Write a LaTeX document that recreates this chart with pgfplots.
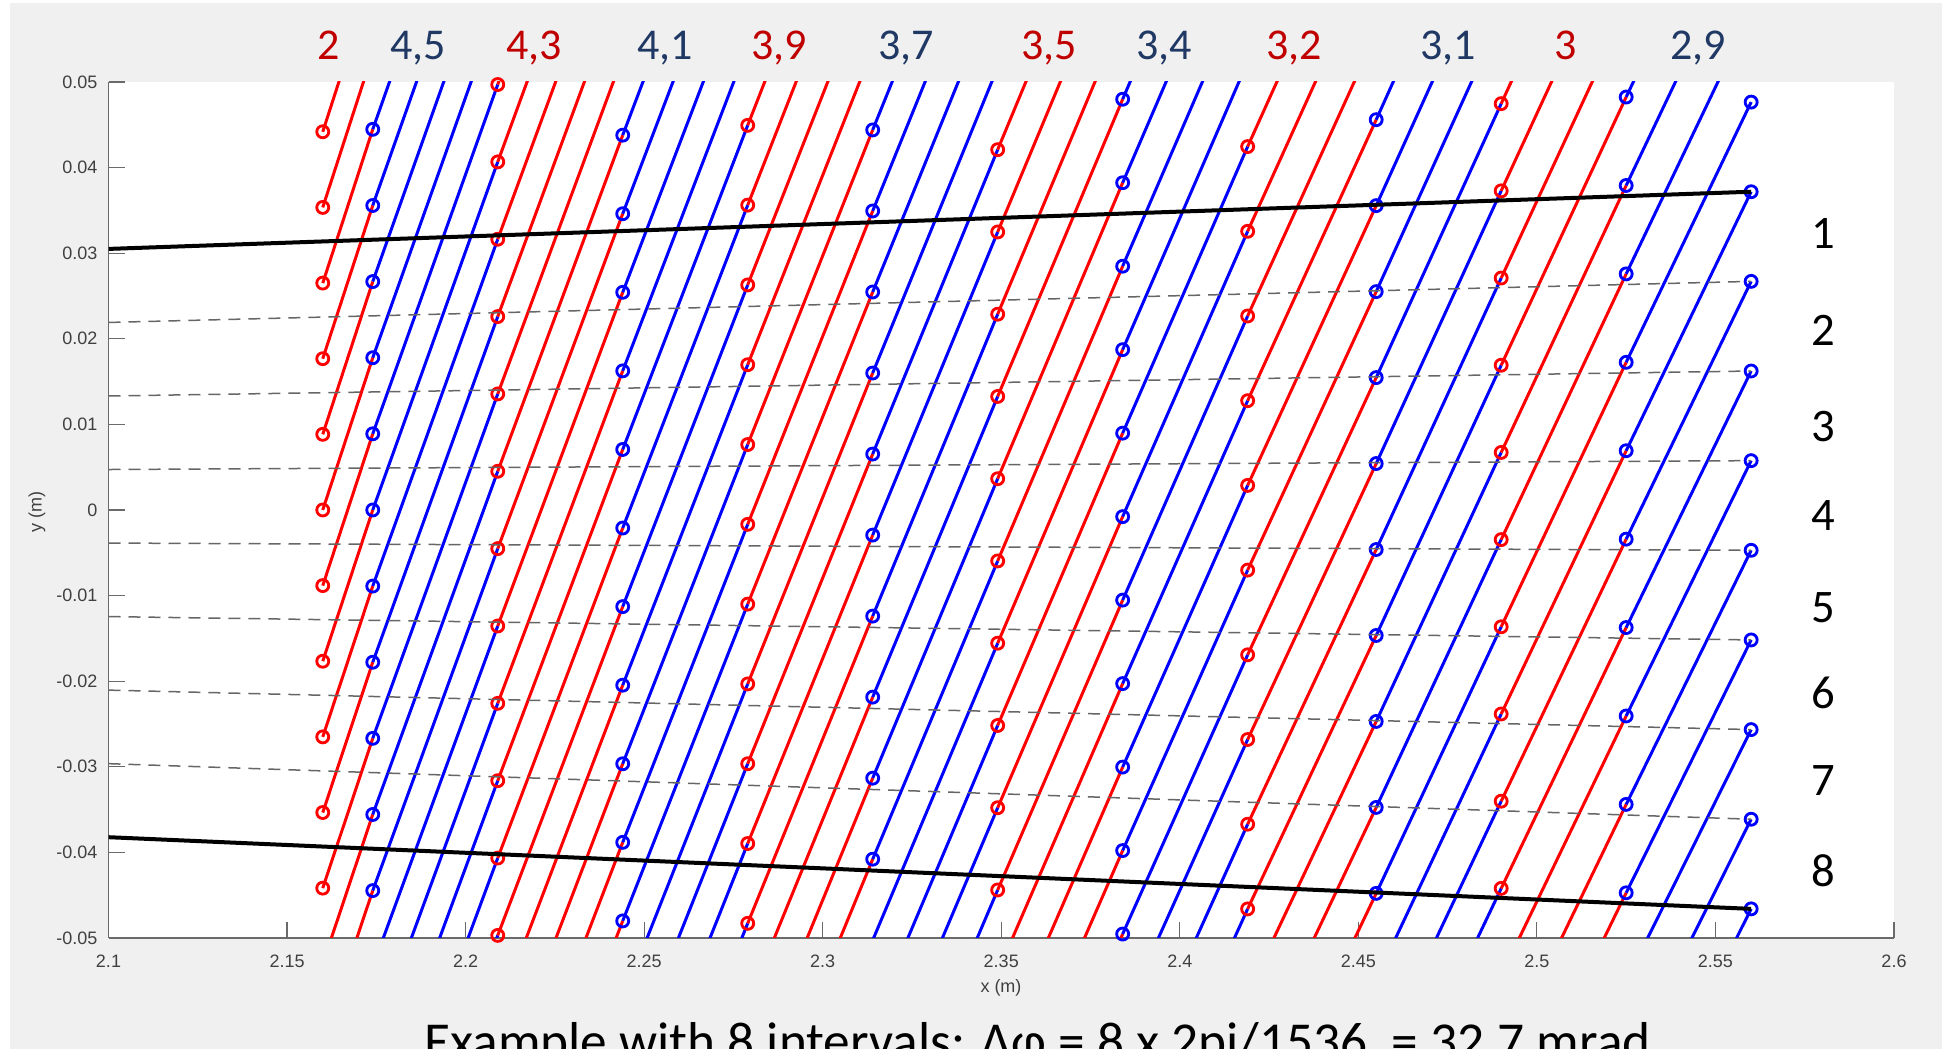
\documentclass[border=0pt]{standalone}
\usepackage{pgfplots}
\pgfplotsset{compat=1.18}
\usepackage{fontspec}
\setmainfont{Liberation Sans}
\newfontfamily\carlito{Carlito}
\definecolor{figbg}{HTML}{F0F0F0}
\definecolor{lblred}{HTML}{C00000}
\definecolor{lblblue}{HTML}{203864}
\definecolor{axgray}{HTML}{6A6A6A}
\definecolor{ticktext}{HTML}{404040}
\definecolor{mred}{RGB}{255,0,0}
\definecolor{mblue}{RGB}{0,0,255}
\begin{document}
\begin{tikzpicture}
\path[use as bounding box] (0pt,0pt) rectangle (583.8pt,314.7pt);
\fill[white] (0pt,0pt) rectangle (583.8pt,314.7pt);
\fill[figbg] (3pt,0pt) rectangle (582.6pt,313.8pt);
\begin{axis}[
  at={(32.55pt,33.3pt)}, anchor=south west,
  scale only axis, width=535.65pt, height=256.8pt,
  xmin=2.1, xmax=2.6, ymin=-0.05, ymax=0.05,
  scaled x ticks=false, scaled y ticks=false,
  axis x line*=bottom, axis y line*=left,
  axis line style={axgray, line width=0.35pt, -},
  axis background/.style={fill=white},
  xtick={2.1,2.15,2.2,2.25,2.3,2.35,2.4,2.45,2.5,2.55,2.6},
  xticklabels={2.1,2.15,2.2,2.25,2.3,2.35,2.4,2.45,2.5,2.55,2.6},
  ytick={-0.05,-0.04,-0.03,-0.02,-0.01,0,0.01,0.02,0.03,0.04,0.05},
  yticklabels={-0.05,-0.04,-0.03,-0.02,-0.01,0,0.01,0.02,0.03,0.04,0.05},
  tick align=inside, major tick length=4.8pt,
  tick style={axgray, line width=0.35pt},
  xticklabel style={font=\fontsize{5.4}{6}\selectfont, text=ticktext, anchor=north, inner sep=0pt, yshift=-4.8pt},
  yticklabel style={font=\fontsize{5.4}{6}\selectfont, text=ticktext, anchor=east, inner sep=0pt, xshift=-3.15pt},
  clip mode=individual,
  unbounded coords=jump,
]
% interval 0 (red)
\addplot[mred, line width=0.9pt, no marks] table {
x y
2.16 -0.061850
2.174 -0.044465
nan nan
2.16 -0.053014
2.174 -0.035572
nan nan
2.16 -0.044179
2.174 -0.026679
nan nan
2.16 -0.035343
2.174 -0.017786
nan nan
2.16 -0.026507
2.174 -0.008893
nan nan
2.16 -0.017671
2.174 0.000000
nan nan
2.16 -0.008836
2.174 0.008893
nan nan
2.16 0.000000
2.174 0.017786
nan nan
2.16 0.008836
2.174 0.026679
nan nan
2.16 0.017671
2.174 0.035572
nan nan
2.16 0.026507
2.174 0.044465
nan nan
2.16 0.035343
2.174 0.053358
nan nan
2.16 0.044179
2.174 0.062251
};
% interval 1 (blue)
\addplot[mblue, line width=0.9pt, no marks] table {
x y
2.174 -0.088930
2.209 -0.049699
nan nan
2.174 -0.080037
2.209 -0.040663
nan nan
2.174 -0.071144
2.209 -0.031627
nan nan
2.174 -0.062251
2.209 -0.022591
nan nan
2.174 -0.053358
2.209 -0.013554
nan nan
2.174 -0.044465
2.209 -0.004518
nan nan
2.174 -0.035572
2.209 0.004518
nan nan
2.174 -0.026679
2.209 0.013554
nan nan
2.174 -0.017786
2.209 0.022591
nan nan
2.174 -0.008893
2.209 0.031627
nan nan
2.174 0.000000
2.209 0.040663
nan nan
2.174 0.008893
2.209 0.049699
nan nan
2.174 0.017786
2.209 0.058735
nan nan
2.174 0.026679
2.209 0.067772
nan nan
2.174 0.035572
2.209 0.076808
nan nan
2.174 0.044465
2.209 0.085844
};
% interval 2 (red)
\addplot[mred, line width=0.9pt, no marks] table {
x y
2.209 -0.085844
2.244 -0.048008
nan nan
2.209 -0.076808
2.244 -0.038828
nan nan
2.209 -0.067772
2.244 -0.029649
nan nan
2.209 -0.058735
2.244 -0.020470
nan nan
2.209 -0.049699
2.244 -0.011291
nan nan
2.209 -0.040663
2.244 -0.002111
nan nan
2.209 -0.031627
2.244 0.007068
nan nan
2.209 -0.022591
2.244 0.016247
nan nan
2.209 -0.013554
2.244 0.025427
nan nan
2.209 -0.004518
2.244 0.034606
nan nan
2.209 0.004518
2.244 0.043785
nan nan
2.209 0.013554
2.244 0.052965
nan nan
2.209 0.022591
2.244 0.062144
nan nan
2.209 0.031627
2.244 0.071323
nan nan
2.209 0.040663
2.244 0.080502
nan nan
2.209 0.049699
2.244 0.089682
};
% interval 3 (blue)
\addplot[mblue, line width=0.9pt, no marks] table {
x y
2.244 -0.084725
2.279 -0.048291
nan nan
2.244 -0.075546
2.279 -0.038968
nan nan
2.244 -0.066366
2.279 -0.029646
nan nan
2.244 -0.057187
2.279 -0.020323
nan nan
2.244 -0.048008
2.279 -0.011001
nan nan
2.244 -0.038828
2.279 -0.001678
nan nan
2.244 -0.029649
2.279 0.007644
nan nan
2.244 -0.020470
2.279 0.016967
nan nan
2.244 -0.011291
2.279 0.026289
nan nan
2.244 -0.002111
2.279 0.035612
nan nan
2.244 0.007068
2.279 0.044934
nan nan
2.244 0.016247
2.279 0.054257
nan nan
2.244 0.025427
2.279 0.063579
nan nan
2.244 0.034606
2.279 0.072902
nan nan
2.244 0.043785
2.279 0.082224
};
% interval 4 (red)
\addplot[mred, line width=0.9pt, no marks] table {
x y
2.279 -0.076258
2.314 -0.040797
nan nan
2.279 -0.066936
2.314 -0.031331
nan nan
2.279 -0.057613
2.314 -0.021866
nan nan
2.279 -0.048291
2.314 -0.012400
nan nan
2.279 -0.038968
2.314 -0.002934
nan nan
2.279 -0.029646
2.314 0.006531
nan nan
2.279 -0.020323
2.314 0.015997
nan nan
2.279 -0.011001
2.314 0.025463
nan nan
2.279 -0.001678
2.314 0.034928
nan nan
2.279 0.007644
2.314 0.044394
nan nan
2.279 0.016967
2.314 0.053860
nan nan
2.279 0.026289
2.314 0.063326
nan nan
2.279 0.035612
2.314 0.072791
nan nan
2.279 0.044934
2.314 0.082257
};
% interval 5 (blue)
\addplot[mblue, line width=0.9pt, no marks] table {
x y
2.314 -0.078660
2.349 -0.044393
nan nan
2.314 -0.069194
2.349 -0.034784
nan nan
2.314 -0.059729
2.349 -0.025175
nan nan
2.314 -0.050263
2.349 -0.015566
nan nan
2.314 -0.040797
2.349 -0.005957
nan nan
2.314 -0.031331
2.349 0.003651
nan nan
2.314 -0.021866
2.349 0.013260
nan nan
2.314 -0.012400
2.349 0.022869
nan nan
2.314 -0.002934
2.349 0.032478
nan nan
2.314 0.006531
2.349 0.042087
nan nan
2.314 0.015997
2.349 0.051695
nan nan
2.314 0.025463
2.349 0.061304
nan nan
2.314 0.034928
2.349 0.070913
nan nan
2.314 0.044394
2.349 0.080522
};
% interval 6 (red)
\addplot[mred, line width=0.9pt, no marks] table {
x y
2.349 -0.082828
2.384 -0.049540
nan nan
2.349 -0.073219
2.384 -0.039788
nan nan
2.349 -0.063610
2.384 -0.030036
nan nan
2.349 -0.054001
2.384 -0.020284
nan nan
2.349 -0.044393
2.384 -0.010532
nan nan
2.349 -0.034784
2.384 -0.000780
nan nan
2.349 -0.025175
2.384 0.008972
nan nan
2.349 -0.015566
2.384 0.018724
nan nan
2.349 -0.005957
2.384 0.028476
nan nan
2.349 0.003651
2.384 0.038228
nan nan
2.349 0.013260
2.384 0.047980
nan nan
2.349 0.022869
2.384 0.057732
nan nan
2.349 0.032478
2.384 0.067484
nan nan
2.349 0.042087
2.384 0.077236
};
% interval 7 (blue)
\addplot[mblue, line width=0.9pt, no marks] table {
x y
2.384 -0.078796
2.419 -0.046606
nan nan
2.384 -0.069044
2.419 -0.036711
nan nan
2.384 -0.059292
2.419 -0.026816
nan nan
2.384 -0.049540
2.419 -0.016921
nan nan
2.384 -0.039788
2.419 -0.007026
nan nan
2.384 -0.030036
2.419 0.002870
nan nan
2.384 -0.020284
2.419 0.012765
nan nan
2.384 -0.010532
2.419 0.022660
nan nan
2.384 -0.000780
2.419 0.032555
nan nan
2.384 0.008972
2.419 0.042450
nan nan
2.384 0.018724
2.419 0.052346
nan nan
2.384 0.028476
2.419 0.062241
nan nan
2.384 0.038228
2.419 0.072136
nan nan
2.384 0.047980
2.419 0.082031
};
% interval 8 (red)
\addplot[mred, line width=0.9pt, no marks] table {
x y
2.419 -0.076292
2.455 -0.044789
nan nan
2.419 -0.066397
2.455 -0.034747
nan nan
2.419 -0.056502
2.455 -0.024704
nan nan
2.419 -0.046606
2.455 -0.014662
nan nan
2.419 -0.036711
2.455 -0.004620
nan nan
2.419 -0.026816
2.455 0.005423
nan nan
2.419 -0.016921
2.455 0.015465
nan nan
2.419 -0.007026
2.455 0.025508
nan nan
2.419 0.002870
2.455 0.035550
nan nan
2.419 0.012765
2.455 0.045592
nan nan
2.419 0.022660
2.455 0.055635
nan nan
2.419 0.032555
2.455 0.065677
nan nan
2.419 0.042450
2.455 0.075720
};
% interval 9 (blue)
\addplot[mblue, line width=0.9pt, no marks] table {
x y
2.455 -0.074916
2.49 -0.044206
nan nan
2.455 -0.064874
2.49 -0.034020
nan nan
2.455 -0.054832
2.49 -0.023834
nan nan
2.455 -0.044789
2.49 -0.013649
nan nan
2.455 -0.034747
2.49 -0.003463
nan nan
2.455 -0.024704
2.49 0.006722
nan nan
2.455 -0.014662
2.49 0.016908
nan nan
2.455 -0.004620
2.49 0.027094
nan nan
2.455 0.005423
2.49 0.037279
nan nan
2.455 0.015465
2.49 0.047465
nan nan
2.455 0.025508
2.49 0.057650
nan nan
2.455 0.035550
2.49 0.067836
nan nan
2.455 0.045592
2.49 0.078022
};
% interval 10 (red)
\addplot[mred, line width=0.9pt, no marks] table {
x y
2.49 -0.074762
2.525 -0.044724
nan nan
2.49 -0.064577
2.525 -0.034395
nan nan
2.49 -0.054391
2.525 -0.024066
nan nan
2.49 -0.044206
2.525 -0.013737
nan nan
2.49 -0.034020
2.525 -0.003409
nan nan
2.49 -0.023834
2.525 0.006920
nan nan
2.49 -0.013649
2.525 0.017249
nan nan
2.49 -0.003463
2.525 0.027578
nan nan
2.49 0.006722
2.525 0.037907
nan nan
2.49 0.016908
2.525 0.048236
nan nan
2.49 0.027094
2.525 0.058564
nan nan
2.49 0.037279
2.525 0.068893
nan nan
2.49 0.047465
2.525 0.079222
};
% interval 11 (blue)
\addplot[mblue, line width=0.9pt, no marks] table {
x y
2.525 -0.075710
2.56 -0.046600
nan nan
2.525 -0.065381
2.56 -0.036128
nan nan
2.525 -0.055053
2.56 -0.025656
nan nan
2.525 -0.044724
2.56 -0.015184
nan nan
2.525 -0.034395
2.56 -0.004712
nan nan
2.525 -0.024066
2.56 0.005760
nan nan
2.525 -0.013737
2.56 0.016232
nan nan
2.525 -0.003409
2.56 0.026704
nan nan
2.525 0.006920
2.56 0.037176
nan nan
2.525 0.017249
2.56 0.047648
nan nan
2.525 0.027578
2.56 0.058120
nan nan
2.525 0.037907
2.56 0.068592
nan nan
2.525 0.048236
2.56 0.079064
};
% red markers
\addplot[only marks, mark=o, mark size=1.8pt, mark options={mred, line width=0.85pt}] table {
x y
2.16 -0.044179
2.16 -0.035343
2.16 -0.026507
2.16 -0.017671
2.16 -0.008836
2.16 0.000000
2.16 0.008836
2.16 0.017671
2.16 0.026507
2.16 0.035343
2.16 0.044179
2.209 -0.049699
2.209 -0.040663
2.209 -0.031627
2.209 -0.022591
2.209 -0.013554
2.209 -0.004518
2.209 0.004518
2.209 0.013554
2.209 0.022591
2.209 0.031627
2.209 0.040663
2.209 0.049699
2.279 -0.048291
2.279 -0.038968
2.279 -0.029646
2.279 -0.020323
2.279 -0.011001
2.279 -0.001678
2.279 0.007644
2.279 0.016967
2.279 0.026289
2.279 0.035612
2.279 0.044934
2.349 -0.044393
2.349 -0.034784
2.349 -0.025175
2.349 -0.015566
2.349 -0.005957
2.349 0.003651
2.349 0.013260
2.349 0.022869
2.349 0.032478
2.349 0.042087
2.419 -0.046606
2.419 -0.036711
2.419 -0.026816
2.419 -0.016921
2.419 -0.007026
2.419 0.002870
2.419 0.012765
2.419 0.022660
2.419 0.032555
2.419 0.042450
2.49 -0.044206
2.49 -0.034020
2.49 -0.023834
2.49 -0.013649
2.49 -0.003463
2.49 0.006722
2.49 0.016908
2.49 0.027094
2.49 0.037279
2.49 0.047465
};
% blue markers
\addplot[only marks, mark=o, mark size=1.8pt, mark options={mblue, line width=0.85pt}] table {
x y
2.174 -0.044465
2.174 -0.035572
2.174 -0.026679
2.174 -0.017786
2.174 -0.008893
2.174 0.000000
2.174 0.008893
2.174 0.017786
2.174 0.026679
2.174 0.035572
2.174 0.044465
2.244 -0.048008
2.244 -0.038828
2.244 -0.029649
2.244 -0.020470
2.244 -0.011291
2.244 -0.002111
2.244 0.007068
2.244 0.016247
2.244 0.025427
2.244 0.034606
2.244 0.043785
2.314 -0.040797
2.314 -0.031331
2.314 -0.021866
2.314 -0.012400
2.314 -0.002934
2.314 0.006531
2.314 0.015997
2.314 0.025463
2.314 0.034928
2.314 0.044394
2.384 -0.049540
2.384 -0.039788
2.384 -0.030036
2.384 -0.020284
2.384 -0.010532
2.384 -0.000780
2.384 0.008972
2.384 0.018724
2.384 0.028476
2.384 0.038228
2.384 0.047980
2.455 -0.044789
2.455 -0.034747
2.455 -0.024704
2.455 -0.014662
2.455 -0.004620
2.455 0.005423
2.455 0.015465
2.455 0.025508
2.455 0.035550
2.455 0.045592
2.525 -0.044724
2.525 -0.034395
2.525 -0.024066
2.525 -0.013737
2.525 -0.003409
2.525 0.006920
2.525 0.017249
2.525 0.027578
2.525 0.037907
2.525 0.048236
2.56 -0.046600
2.56 -0.036128
2.56 -0.025656
2.56 -0.015184
2.56 -0.004712
2.56 0.005760
2.56 0.016232
2.56 0.026704
2.56 0.037176
2.56 0.047648
};
% interval boundaries (black)
\addplot[black!60, line width=0.45pt, dash pattern=on 3.6pt off 2.4pt, no marks] coordinates {(2.1,0.021905) (2.56,0.026704)};
\addplot[black!60, line width=0.45pt, dash pattern=on 3.6pt off 2.4pt, no marks] coordinates {(2.1,0.013315) (2.56,0.016232)};
\addplot[black!60, line width=0.45pt, dash pattern=on 3.6pt off 2.4pt, no marks] coordinates {(2.1,0.004725) (2.56,0.005760)};
\addplot[black!60, line width=0.45pt, dash pattern=on 3.6pt off 2.4pt, no marks] coordinates {(2.1,-0.003866) (2.56,-0.004712)};
\addplot[black!60, line width=0.45pt, dash pattern=on 3.6pt off 2.4pt, no marks] coordinates {(2.1,-0.012456) (2.56,-0.015184)};
\addplot[black!60, line width=0.45pt, dash pattern=on 3.6pt off 2.4pt, no marks] coordinates {(2.1,-0.021046) (2.56,-0.025656)};
\addplot[black!60, line width=0.45pt, dash pattern=on 3.6pt off 2.4pt, no marks] coordinates {(2.1,-0.029636) (2.56,-0.036128)};
\addplot[black, line width=1.2pt, no marks] coordinates {(2.1,0.030496) (2.56,0.037176)};
\addplot[black, line width=1.2pt, no marks] coordinates {(2.1,-0.038227) (2.56,-0.046600)};
\end{axis}
% axis labels
\node[font=\fontsize{5.4}{6}\selectfont, text=ticktext, anchor=center] at (300.3pt,18.3pt) {x (m)};
\node[font=\fontsize{5.4}{6}\selectfont, text=ticktext, anchor=center, rotate=90] at (11.1pt,161.1pt) {y (m)};
% top labels
\begin{scope}[every node/.style={font=\carlito\fontsize{13.2}{15}\selectfont, anchor=base, inner sep=0pt}]
\node[text=lblred]  at (98.7pt,296.7pt) {2};
\node[text=lblblue] at (125.4pt,296.7pt) {4,5};
\node[text=lblred]  at (160.2pt,296.7pt) {4,3};
\node[text=lblblue] at (199.5pt,296.7pt) {4,1};
\node[text=lblred]  at (233.7pt,296.7pt) {3,9};
\node[text=lblblue] at (271.8pt,296.7pt) {3,7};
\node[text=lblred]  at (314.7pt,296.7pt) {3,5};
\node[text=lblblue] at (349.2pt,296.7pt) {3,4};
\node[text=lblred]  at (388.2pt,296.7pt) {3,2};
\node[text=lblblue] at (434.4pt,296.7pt) {3,1};
\node[text=lblred]  at (469.8pt,296.7pt) {3};
\node[text=lblblue] at (509.4pt,296.7pt) {2,9};
\end{scope}
% interval numbers
\begin{scope}[every node/.style={font=\carlito\fontsize{14}{16}\selectfont, anchor=base, inner sep=0pt, text=black}]
\node at (546.9pt,240pt) {1};
\node at (546.9pt,210.9pt) {2};
\node at (546.9pt,182.1pt) {3};
\node at (546.9pt,155.4pt) {4};
\node at (546.9pt,127.8pt) {5};
\node at (546.9pt,102pt) {6};
\node at (546.9pt,75.9pt) {7};
\node at (546.9pt,48.6pt) {8};
\end{scope}
% caption (cut off by the page edge, as in the reference)
\node[font=\carlito\fontsize{16}{18}\selectfont, anchor=base, inner sep=0pt] at (311.25pt,-3.2pt) {Example with 8 intervals: Δφ = 8 x 2pi/1536 \ = 32.7 mrad};
\end{tikzpicture}
\end{document}
